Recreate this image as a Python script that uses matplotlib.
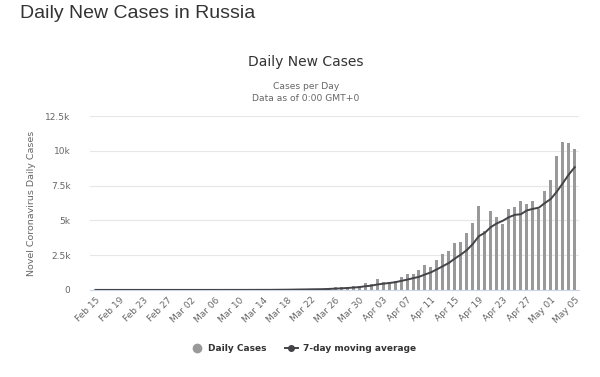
import numpy as np
import matplotlib
matplotlib.use("Agg")
import matplotlib.pyplot as plt
from matplotlib.lines import Line2D

plt.rcParams['font.family'] = ['DejaVu Sans']

# Feb 15 .. May 05 (2020)
dates = (["Feb %02d" % d for d in range(15, 30)]
         + ["Mar %02d" % d for d in range(1, 32)]
         + ["Apr %02d" % d for d in range(1, 31)]
         + ["May %02d" % d for d in range(1, 6)])

daily_cases = [0] * 15 + [
    # March
    0, 1, 0, 0, 0, 1, 6, 3, 0, 3, 3, 8, 6, 14, 4, 30, 21, 33, 52, 54,
    53, 61, 71, 57, 163, 182, 196, 228, 270, 302, 501,
    # April
    440, 771, 601, 582, 658, 954, 1154, 1175, 1459, 1786, 1667, 2186,
    2558, 2774, 3388, 3448, 4070, 4785, 6060, 4268, 5642, 5236, 4774,
    5849, 5966, 6361, 6198, 6411, 5841, 7099,
    # May
    7933, 9623, 10633, 10581, 10102,
]

moving_avg = [0] * 15 + [
    # March
    0, 0.1, 0.1, 0.1, 0.1, 0.3, 1.1, 1.6, 1.6, 1.9, 2.3, 3.4, 4.1, 5.3,
    5.4, 9.7, 12.3, 16.6, 22.7, 29.7, 35.3, 43.4, 49.3, 54.4, 73, 91.6,
    111.9, 136.9, 166.7, 199.7, 263.1,
    # April
    302.7, 386.9, 444.7, 495.3, 550.7, 643.9, 737.1, 842.1, 940.4,
    1109.7, 1264.7, 1483, 1712.1, 1943.6, 2259.7, 2543.9, 2870.1,
    3315.6, 3869, 4113.3, 4523, 4787, 4976.4, 5230.6, 5399.3, 5442.3,
    5718, 5827.9, 5914.3, 6246.4,
    # May
    6544.1, 7066.6, 7676.9, 8303, 8830.3,
]

y_ticks = [0, 2500, 5000, 7500, 10000, 12500]
y_labels = ["0", "2.5k", "5k", "7.5k", "10k", "12.5k"]

fig = plt.figure(figsize=(6, 3.77), dpi=100)
ax = fig.add_axes([0.150, 0.231, 0.815, 0.461])

x = np.arange(len(dates))
ax.bar(x, daily_cases, width=0.5, color="#999999", zorder=2)
ax.plot(x, moving_avg, color="#434348", lw=1.4, zorder=3)

ax.set_xlim(-0.9, len(dates) - 0.3)
ax.set_ylim(0, 12500)
ax.set_yticks(y_ticks)
ax.set_yticklabels(y_labels)
ax.set_xticks(x[::4])
ax.set_xticklabels(dates[::4], rotation=45, ha="right", rotation_mode="anchor")

ax.grid(axis="y", color="#e6e6e6", lw=0.8, zorder=0)
for s in ["top", "right", "left"]:
    ax.spines[s].set_visible(False)
ax.spines["bottom"].set_color("#ccd6eb")
ax.tick_params(axis="y", length=0, labelsize=6.5, labelcolor="#666666", pad=14)
ax.tick_params(axis="x", length=0, labelsize=6.5, labelcolor="#666666", pad=4)
ax.set_ylabel("Novel Coronavirus Daily Cases", fontsize=6.8, color="#666666", labelpad=7)

fig.text(0.033, 0.965, "Daily New Cases in Russia", fontsize=14, color="#333333",
         ha="left", va="center", family="Liberation Sans")
fig.text(0.51, 0.835, "Daily New Cases", fontsize=10, color="#333333",
         ha="center", va="center")
fig.text(0.51, 0.770, "Cases per Day", fontsize=6.6, color="#666666",
         ha="center", va="center")
fig.text(0.51, 0.739, "Data as of 0:00 GMT+0", fontsize=6.6, color="#666666",
         ha="center", va="center")

handles = [
    Line2D([], [], marker="o", ls="none", color="#999999", markersize=6),
    Line2D([], [], marker="o", color="#434348", lw=1.4, markersize=4),
]
fig.legend(handles, ["Daily Cases", "7-day moving average"], loc="center",
           bbox_to_anchor=(0.505, 0.075), ncol=2, frameon=False,
           prop={"size": 6.5, "weight": "bold"}, labelcolor="#333333",
           handlelength=1.5, columnspacing=2.0, handletextpad=0.5)

fig.savefig("out.png", dpi=100, facecolor="white")
